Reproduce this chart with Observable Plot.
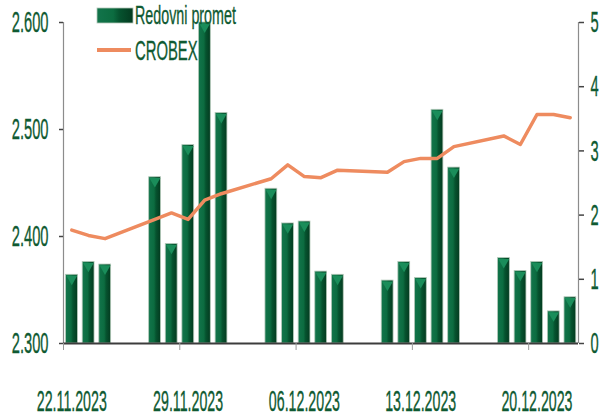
<!DOCTYPE html>
<html><head><meta charset="utf-8">
<script src="https://cdn.jsdelivr.net/npm/d3@7"></script>
<script src="https://cdn.jsdelivr.net/npm/@observablehq/plot@0.6"></script>
<style>
body{margin:0;background:#fff;}
#wrap{position:relative;width:609px;height:418px;}
</style></head><body><div id="wrap"></div>
<script>
// ---- data ----
const dates = ["2023-11-22","2023-11-23","2023-11-24","2023-11-27","2023-11-28","2023-11-29","2023-11-30","2023-12-01","2023-12-04","2023-12-05","2023-12-06","2023-12-07","2023-12-08","2023-12-11","2023-12-12","2023-12-13","2023-12-14","2023-12-15","2023-12-18","2023-12-19","2023-12-20","2023-12-21","2023-12-22"];
const promet = [1.07,1.27,1.23,2.59,1.55,3.09,5.0,3.59,2.41,1.87,1.90,1.12,1.07,0.98,1.27,1.02,3.64,2.74,1.33,1.13,1.27,0.50,0.72];
const crobex = [2406,2401,2398,2416,2422,2416,2434,2440,2454,2467,2456,2455,2462,2460,2470,2473,2473,2484,2494,2486,2514,2514,2511];
const leftTicks = [2300,2400,2500,2600];
const leftTickLabels = ["2.300","2.400","2.500","2.600"];
const rightTicks = [0,1,2,3,4,5];
const labelDates = ["2023-11-22","2023-11-29","2023-12-06","2023-12-13","2023-12-20"];
const seriesNames = ["Redovni promet","CROBEX"];

// ---- setup ----
const parse = d3.utcParse("%Y-%m-%d");
const data = dates.map((d,i)=>({date: parse(d), promet: promet[i], crobex: crobex[i]}));
const yMin = 2300, yMax = 2600, rMax = 5;
const toLeft = v => yMin + v*(yMax-yMin)/rMax;
const fromLeft = d => (d-yMin)*rMax/(yMax-yMin);
const xStart = parse(dates[0]);
const xEnd = d3.utcDay.offset(parse(dates[dates.length-1]),1);
const mid = d => d3.utcHour.offset(d,12);
const green = "#0f5a32";
const orange = "#ee8b5f";
const font = '"Liberation Sans", Arial, sans-serif';
const W = 609, H = 418, mL = 63, mR = 31, mT = 22, mB = 75;
const halfDay = (W-mL-mR)/d3.utcDay.count(xStart,xEnd)/2;
const FS = 30;

const chart = Plot.plot({
  width: W, height: H, marginLeft: mL, marginRight: mR, marginTop: mT, marginBottom: mB,
  style: {fontFamily: font, background: "white", overflow: "visible"},
  x: {type: "utc", domain: [xStart, xEnd], label: null},
  y: {domain: [yMin, yMax], label: null},
  marks: [
    Plot.rectY(data, {x1: "date", x2: d => d3.utcDay.offset(d.date,1), y1: yMin, y2: d => toLeft(d.promet),
      insetLeft: 2.6, insetRight: 2.2, fill: "url(#barGrad)", stroke: "#b3c9b9", strokeWidth: 0.8}),
    Plot.dot(data, {x: d => mid(d.date), y: d => toLeft(d.promet), symbol: "triangle", rotate: 180, r: 4.1,
      fill: "#1a8d5a", stroke: "none", dy: 4}),
    Plot.ruleX([xStart], {stroke: "#8c8c8c", strokeWidth: 1.2}),
    Plot.ruleX([xEnd], {stroke: "#8c8c8c", strokeWidth: 1.2}),
    Plot.ruleY([yMin], {stroke: "#3c3c3c", strokeWidth: 2.2}),
    Plot.line(data, {x: d => mid(d.date), y: "crobex", stroke: orange, strokeWidth: 3.5, strokeLinejoin: "round"}),
    Plot.axisY({ticks: leftTicks, anchor: "left", tickSize: 4, tickPadding: 11,
      tickFormat: d => leftTickLabels[leftTicks.indexOf(d)], fontSize: FS, fill: green, stroke: "#444", strokeWidth: 1.5}),
    Plot.axisY({ticks: rightTicks.map(toLeft), anchor: "right", tickSize: 5, tickPadding: 7,
      tickFormat: d => String(Math.round(fromLeft(d))), fontSize: FS, fill: green, stroke: "#444", strokeWidth: 1.5}),
    Plot.axisX({ticks: labelDates.map(parse), tickSize: 7, tickFormat: () => "", stroke: "#9a9a9a"}),
    Plot.axisX({ticks: labelDates.map(parse), tickSize: 0, tickPadding: 47, dx: halfDay,
      tickFormat: d3.utcFormat("%d.%m.%Y"), fontSize: 29, fill: green})
  ]
});

const ns = "http://www.w3.org/2000/svg";
const defs = document.createElementNS(ns, "defs");
defs.innerHTML = `<linearGradient id="barGrad" x1="0" x2="1" y1="0" y2="0">
  <stop offset="0" stop-color="#12744b"/>
  <stop offset="0.45" stop-color="#0c6c40"/>
  <stop offset="0.62" stop-color="#06532f"/>
  <stop offset="1" stop-color="#033a1f"/>
</linearGradient>`;
chart.insertBefore(defs, chart.firstChild);

// legend (inside the svg)
const leg = document.createElementNS(ns, "g");
leg.setAttribute("text-anchor", "start");
leg.innerHTML = `<rect x="97" y="8" width="36" height="15" fill="url(#barGrad)" stroke="#b3c9b9" stroke-width="0.8"/>
<line x1="97" x2="131" y1="50" y2="50" stroke="${orange}" stroke-width="4"/>
<text x="135" y="24" font-size="26" text-anchor="start" fill="${green}" font-family='${font}'>${seriesNames[0]}</text>
<text x="135" y="60" font-size="27" text-anchor="start" fill="${green}" font-family='${font}'>${seriesNames[1]}</text>`;
chart.appendChild(leg);

// condensed text, slightly thickened
chart.querySelectorAll("text").forEach(t => {
  const k = t.closest("g") === leg ? 0.55 : 0.49;
  const x = +(t.getAttribute("x") || 0);
  const tr = t.getAttribute("transform") || "";
  t.setAttribute("transform", `${tr} translate(${x},0) scale(${k},1) translate(${-x},0)`);
  t.setAttribute("stroke", green);
  t.setAttribute("stroke-width", "0.35");
  t.setAttribute("paint-order", "stroke");
});

document.getElementById("wrap").appendChild(chart);
</script></body></html>
